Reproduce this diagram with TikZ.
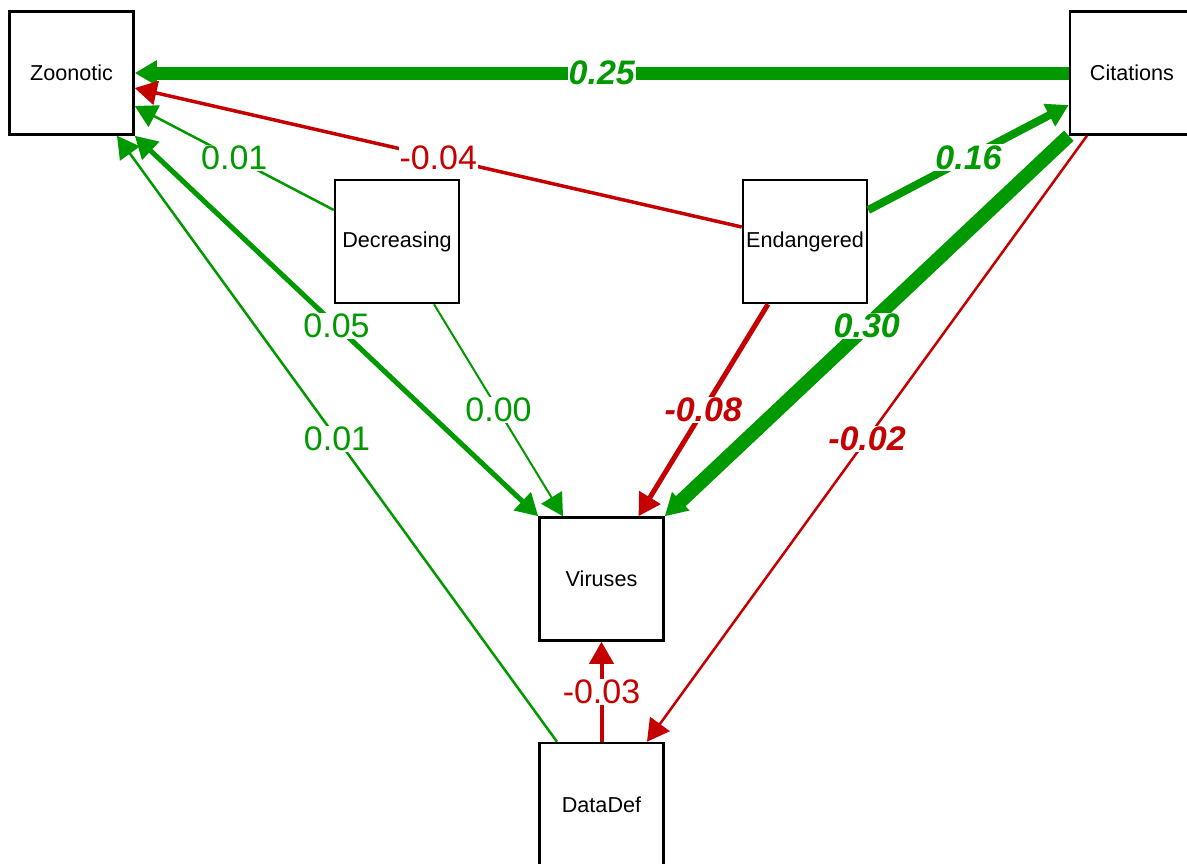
\documentclass[tikz,border=0pt]{standalone}
\usepackage{fontspec}
\setmainfont{Liberation Sans}
\usetikzlibrary{arrows.meta}
\definecolor{posgreen}{RGB}{0,153,0}
\definecolor{negred}{RGB}{196,0,0}
\begin{document}
\begin{tikzpicture}[x=1pt, y=-1pt,
        var/.style={draw, fill=white, line width=2.5pt, minimum width=124pt, minimum height=123pt,
            inner sep=0pt, font=\fontsize{21.6}{26}\selectfont},
        posedge/.style={draw=posgreen, -{Triangle[length=22pt,width=24pt]}},
        negedge/.style={draw=negred, -{Triangle[length=22pt,width=24pt]}},
        coef/.style={midway, fill=white, inner sep=1pt, font=\fontsize{34}{40}\selectfont},
        sig/.style={font=\fontsize{34}{40}\selectfont\bfseries\itshape}]
    \clip (0,0) rectangle (1187,863);
    \fill[white] (0,0) rectangle (1187,863);

    % variables
    \node[var] (zoo) at (71.5,73) {Zoonotic};
    \node[var] (cit) at (1132,73) {Citations};
    \node[var] (dec) at (397,241.5) {Decreasing};
    \node[var] (end) at (805,241.5) {Endangered};
    \node[var] (vir) at (601.5,579) {Viruses};
    \node[var] (dat) at (601.5,804.5) {DataDef};

    % paths to Zoonotic
    \draw[posedge, line width=13pt] (cit.west) -- node[coef, sig, text=posgreen] {0.25} (zoo.east);
    \draw[negedge, line width=3.5pt] ([yshift=14.5pt]end.west) -- node[coef, text=negred] {-0.04} ([yshift=-15pt]zoo.east);
    \draw[posedge, line width=2.5pt] ([yshift=31.5pt]dec.west) -- node[coef, text=posgreen] {0.01} ([yshift=-33pt]zoo.east);
    \draw[posedge, line width=5pt, {Triangle[length=22pt,width=24pt]}-{Triangle[length=22pt,width=24pt]}]
        (zoo.south east) -- node[coef, text=posgreen] {0.05} (vir.north west);
    \draw[posedge, line width=2.5pt] ([xshift=-44.5pt]dat.north) -- node[coef, text=posgreen] {0.01} ([xshift=45.5pt]zoo.south);

    % paths to Viruses
    \draw[posedge, line width=2pt] ([xshift=37pt]dec.south) -- node[coef, text=posgreen] {0.00} ([xshift=-38.5pt]vir.north);
    \draw[negedge, line width=5pt] ([xshift=-37pt]end.south) -- node[coef, sig, text=negred] {-0.08} ([xshift=37pt]vir.north);
    \draw[posedge, line width=14pt] (cit.south west) -- node[coef, sig, text=posgreen] {0.30} (vir.north east);
    \draw[negedge, line width=4pt] (dat.north) -- node[coef, text=negred] {-0.03} (vir.south);

    % other paths
    \draw[posedge, line width=8pt] ([yshift=31.5pt]end.east) -- node[coef, sig, text=posgreen] {0.16} ([yshift=-32pt]cit.west);
    \draw[negedge, line width=2.5pt] ([xshift=-45pt]cit.south) -- node[coef, sig, text=negred] {-0.02} ([xshift=45.5pt]dat.north);
\end{tikzpicture}
\end{document}
